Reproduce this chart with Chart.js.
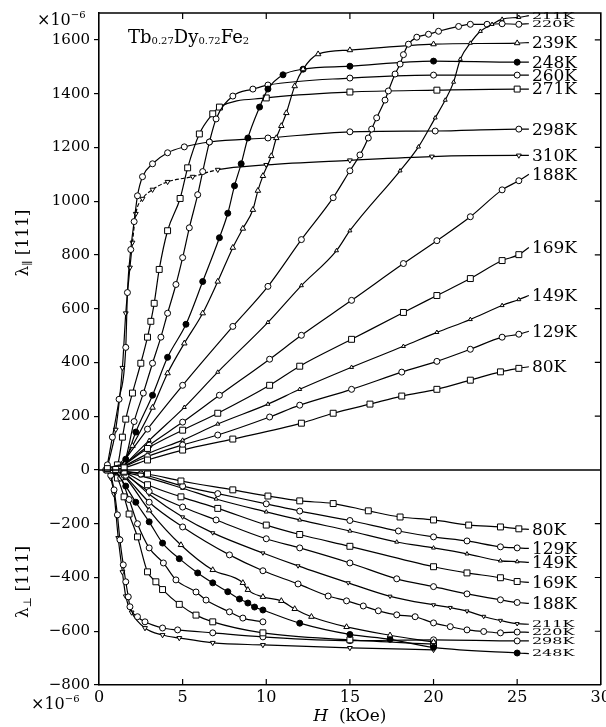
<!DOCTYPE html>
<html><head><meta charset="utf-8">
<script src="https://cdn.jsdelivr.net/npm/chart.js@4/dist/chart.umd.min.js"></script>
<style>html,body{margin:0;padding:0;background:#fff}</style>
</head><body>
<canvas id="c" width="606" height="727"></canvas>
<script>
// ---------- DATA (H in kOe, lambda in 1e-6) ----------
const xTickValues = [0, 5, 10, 15, 20, 25, 30];
const yTickValues = [-800, -600, -400, -200, 0, 200, 400, 600, 800, 1000, 1200, 1400, 1600];

// lambda-parallel [111]
const par80K  = [[1.0,2],[1.5,8],[2.9,37],[5.0,74],[8.0,115],[12.1,174],[14.0,211],[16.2,245],[18.1,275],[20.2,300],[22.2,334],[24.0,365],[25.1,378],[25.7,384]];
const par129K = [[1.2,3],[2.9,50],[5.0,93],[7.1,130],[10.2,197],[12.0,241],[15.1,300],[18.1,364],[20.2,404],[22.2,449],[24.1,494],[25.1,505],[25.7,516]];
const par149K = [[1.2,3],[2.9,60],[5.0,111],[7.1,171],[10.1,245],[12.0,300],[15.1,382],[18.2,460],[20.2,512],[22.2,560],[24.1,612],[25.1,634],[25.7,649]];
const par169K = [[1.2,4],[2.9,80],[5.0,148],[7.1,211],[10.2,315],[12.0,386],[15.1,486],[18.2,586],[20.2,649],[22.2,712],[24.1,779],[25.1,801],[25.7,828]];
const par188K = [[1.2,5],[3.0,92],[5.0,178],[7.2,278],[10.2,412],[12.1,501],[15.1,631],[18.2,768],[20.2,853],[22.2,942],[24.1,1042],[25.1,1076],[25.7,1100]];
const par211K = [[1.3,5],[3.0,110],[5.1,233],[7.1,364],[10.1,549],[12.1,686],[14.2,816],[15.0,890],[18.0,1113],[19.1,1202],[20.1,1310],[20.7,1376],[21.2,1443],[21.6,1528],[22.2,1588],[22.8,1632],[23.5,1658],[24.1,1677],[25.1,1684],[25.7,1690]];
const par220K = [[1.2,8],[2.9,152],[5.0,315],[8.0,534],[10.1,683],[12.1,857],[14.0,1013],[15.0,1113],[15.6,1172],[16.1,1235],[16.3,1268],[16.6,1310],[17.1,1376],[17.3,1410],[17.7,1473],[18.0,1510],[18.2,1545],[18.5,1584],[19.0,1610],[19.7,1621],[20.3,1632],[21.5,1650],[22.2,1658],[23.2,1658],[24.1,1660],[25.1,1658],[25.7,1660]];
const par239K = [[1.3,10],[2.0,90],[3.2,232],[4.1,360],[5.1,471],[6.2,583],[7.1,701],[8.0,827],[8.6,898],[9.2,968],[9.5,1039],[9.8,1094],[10.3,1168],[10.6,1235],[10.9,1280],[11.2,1328],[11.7,1428],[12.2,1491],[13.1,1547],[15.0,1562],[20.0,1584],[25.0,1588],[25.7,1590]];
const par248K = [[1.0,3],[1.6,40],[2.2,141],[3.2,278],[4.1,419],[5.2,542],[6.2,701],[7.2,864],[7.7,955],[8.1,1057],[8.5,1139],[8.9,1235],[9.6,1350],[10.1,1417],[11.0,1470],[12.2,1491],[15.0,1502],[20.0,1521],[25.0,1517],[25.7,1517]];
const par260K = [[1.0,5],[1.5,25],[2.1,180],[2.65,286],[3.2,397],[3.7,494],[4.1,583],[4.6,690],[5.0,790],[5.4,901],[5.9,1024],[6.2,1110],[6.6,1220],[7.0,1306],[8.0,1391],[9.2,1417],[10.1,1432],[15.0,1458],[20.0,1469],[25.0,1469],[25.7,1469]];
const par271K = [[0.5,5],[1.1,19],[1.4,122],[1.6,189],[2.0,286],[2.5,397],[2.9,494],[3.1,553],[3.3,620],[3.6,746],[4.1,890],[4.85,1010],[5.3,1124],[6.0,1250],[6.8,1325],[7.2,1350],[10.0,1384],[15.0,1406],[20.2,1413],[25.0,1417],[25.7,1417]];
const par298K = [[0.5,19],[0.8,122],[1.2,263],[1.6,456],[1.7,660],[1.9,820],[2.1,924],[2.3,1020],[2.6,1091],[3.2,1139],[4.1,1180],[5.1,1202],[6.6,1220],[10.1,1235],[15.0,1258],[20.1,1261],[25.1,1268],[25.7,1268]];
const par310K = [[0.5,10],[1.0,150],[1.4,380],[1.6,583],[1.85,753],[2.0,846],[2.2,953],[2.6,1009],[3.2,1043],[4.1,1072],[5.6,1091],[7.1,1117],[10.0,1135],[15.0,1152],[19.9,1166],[25.1,1170],[25.7,1170]];

// lambda-perpendicular [111]
const perp80K  = [[0.5,0],[1.5,-5],[2.9,-15],[4.9,-41],[8.0,-74],[10.1,-97],[12.0,-115],[14.0,-125],[16.1,-152],[18.0,-175],[20.0,-186],[22.1,-205],[24.0,-212],[25.1,-219],[25.7,-221]];
const perp129K = [[0.7,0],[2.5,-15],[5.0,-60],[7.1,-88],[10.0,-126],[12.0,-153],[15.0,-188],[17.9,-227],[20.0,-249],[22.0,-264],[24.0,-286],[25.0,-290],[25.7,-292]];
const perp149K = [[0.8,0],[2.5,-22],[5.0,-68],[7.0,-108],[10.0,-156],[12.0,-186],[15.0,-227],[17.8,-268],[20.0,-290],[22.0,-312],[24.0,-338],[25.0,-341],[25.7,-344]];
const perp169K = [[1.0,0],[1.5,-8],[2.9,-55],[4.9,-100],[7.1,-143],[10.0,-205],[12.0,-240],[15.0,-284],[20.0,-360],[22.0,-383],[24.0,-401],[25.0,-415],[25.7,-418]];
const perp188K = [[1.0,0],[1.6,-20],[3.0,-80],[5.0,-138],[7.0,-186],[10.0,-256],[12.0,-290],[15.0,-346],[17.8,-405],[20.0,-434],[22.0,-461],[24.0,-483],[25.0,-493],[25.7,-496]];
const perp211K = [[1.0,0],[1.5,-12],[3.0,-90],[5.0,-175],[6.8,-234],[9.8,-309],[11.9,-357],[14.9,-420],[17.4,-470],[20.0,-502],[21.0,-512],[22.0,-525],[23.0,-545],[24.0,-560],[25.0,-572],[25.7,-574]];
const perp220K = [[1.0,0],[1.5,-20],[3.0,-120],[5.0,-212],[7.8,-316],[9.8,-375],[11.9,-424],[13.7,-469],[14.8,-487],[15.8,-506],[16.7,-524],[17.8,-539],[18.9,-546],[20.0,-569],[21.0,-583],[22.0,-595],[23.0,-601],[24.0,-606],[25.0,-603],[25.7,-604]];
const perp239K = [[1.0,0],[1.6,-30],[3.0,-150],[4.9,-279],[6.8,-372],[8.6,-420],[8.9,-446],[9.8,-472],[10.9,-487],[11.7,-517],[12.7,-546],[14.8,-584],[17.4,-615],[20.0,-640]];
const perp248K = [[1.0,-5],[1.6,-60],[2.2,-120],[3.0,-193],[3.8,-272],[4.8,-330],[5.9,-383],[6.8,-420],[7.7,-453],[8.4,-480],[8.9,-495],[9.3,-510],[9.8,-521],[12.0,-570],[15.0,-612],[17.4,-630],[20.0,-660],[25.0,-681],[25.7,-683]];
const perp260K = [[0.8,0],[1.3,-30],[1.8,-110],[2.3,-200],[3.0,-290],[3.85,-346],[4.6,-409],[5.8,-454],[6.4,-484],[7.8,-528],[8.6,-551],[9.8,-565]];
const perp271K = [[0.7,0],[1.1,-30],[1.5,-100],[1.8,-164],[2.3,-249],[2.9,-379],[3.4,-416],[3.8,-445],[4.8,-500],[5.8,-540],[6.8,-565],[9.8,-606],[15.0,-632],[20.0,-648]];
const perp298K = [[0.4,0],[0.7,-20],[0.9,-74],[1.1,-167],[1.25,-260],[1.45,-353],[1.6,-416],[1.75,-472],[1.85,-509],[2.3,-546],[2.75,-565],[3.8,-588],[4.7,-595],[6.8,-606],[9.8,-621],[15.0,-635],[20.0,-632],[25.0,-636],[25.7,-636]];
const perp310K = [[0.4,0],[0.7,-30],[0.9,-90],[1.15,-253],[1.4,-380],[1.6,-470],[1.95,-530],[2.75,-588],[3.8,-614],[4.8,-625],[6.8,-643],[9.8,-651],[15.0,-662],[20.0,-669]];

// ---------- series table: [label, data, marker, labelStyle, dashed] ----------
const seriesTable = [
  ['80K',  par80K,  'sq',  'big'], ['129K', par129K, 'ci', 'big'], ['149K', par149K, 'tt', 'big'],
  ['169K', par169K, 'sq',  'big'], ['188K', par188K, 'ci', 'big'], ['211K', par211K, 'tt', 'small'],
  ['220K', par220K, 'ci',  'small'], ['239K', par239K, 'tr', 'big'], ['248K', par248K, 'fc', 'big'],
  ['260K', par260K, 'ci',  'big'], ['271K', par271K, 'sq', 'big'], ['298K', par298K, 'ci', 'big'],
  ['310K', par310K, 'dt',  'big', true],
  ['80K',  perp80K,  'sq', 'big'], ['129K', perp129K, 'ci', 'big'], ['149K', perp149K, 'tt', 'big'],
  ['169K', perp169K, 'sq', 'big'], ['188K', perp188K, 'ci', 'big'], ['211K', perp211K, 'dtt', 'small'],
  ['220K', perp220K, 'ci', 'small'], ['239K', perp239K, 'tr', null], ['248K', perp248K, 'fc', 'small'],
  ['260K', perp260K, 'ci', null], ['271K', perp271K, 'sq', null], ['298K', perp298K, 'ci', 'small'],
  ['310K', perp310K, 'dt', null]
];

const markerStyles = {
  sq:  {pointStyle: 'rect', radius: 4.2, rotation: 0, fill: '#fff'},
  ci:  {pointStyle: 'circle', radius: 3.0, rotation: 0, fill: '#fff'},
  tr:  {pointStyle: 'triangle', radius: 3.2, rotation: 0, fill: '#fff'},
  tt:  {pointStyle: 'triangle', radius: 2.3, rotation: 0, fill: '#fff'},
  dt:  {pointStyle: 'triangle', radius: 2.8, rotation: 180, fill: '#fff'},
  dtt: {pointStyle: 'triangle', radius: 2.3, rotation: 180, fill: '#fff'},
  fc:  {pointStyle: 'circle', radius: 3.0, rotation: 0, fill: '#000'}
};

const SERIF = '"DejaVu Serif", "Liberation Serif", serif';

const datasets = seriesTable.map(([label, pts, mk, ls, dashed]) => {
  const m = markerStyles[mk];
  const n = pts.length;
  return {
    label,
    data: pts.map(p => ({x: p[0], y: p[1]})),
    showLine: true,
    borderColor: '#000',
    borderWidth: 1.2,
    cubicInterpolationMode: 'monotone',
    segment: dashed ? {borderDash: c => (c.p0.parsed.x >= 2.0 && c.p0.parsed.x < 7.1) ? [4, 2] : undefined} : undefined,
    pointStyle: m.pointStyle,
    pointRotation: m.rotation,
    pointBackgroundColor: m.fill,
    pointBorderColor: '#000',
    pointBorderWidth: 1,
    pointRadius: ctx => (ls && ctx.dataIndex === n - 1) ? 0 : m.radius,
    pointHoverRadius: 0,
    _labelStyle: ls
  };
});

function drawRuns(ctx, runs, x, y) {
  let cx = x;
  for (const [t, f, dy] of runs) {
    ctx.font = f;
    ctx.fillText(t, cx, y + dy);
    cx += ctx.measureText(t).width;
  }
  return cx - x;
}
function runsWidth(ctx, runs) {
  let w = 0;
  for (const [t, f] of runs) { ctx.font = f; w += ctx.measureText(t).width; }
  return w;
}

const decor = {
  id: 'decor',
  afterDraw(chart) {
    const {ctx, chartArea: a, scales: {x, y}} = chart;
    ctx.save();
    ctx.strokeStyle = '#000';
    ctx.fillStyle = '#000';
    ctx.lineWidth = 1.6;
    ctx.beginPath();
    ctx.moveTo(a.left, a.top); ctx.lineTo(a.right, a.top); ctx.lineTo(a.right, a.bottom);
    ctx.stroke();
    const y0 = y.getPixelForValue(0);
    ctx.lineWidth = 1.4;
    ctx.beginPath(); ctx.moveTo(a.left, y0); ctx.lineTo(a.right, y0); ctx.stroke();
    ctx.lineWidth = 1.2;
    ctx.beginPath();
    for (const v of xTickValues) {
      if (v === 0 || v === 30) continue;
      const px = x.getPixelForValue(v);
      ctx.moveTo(px, a.bottom); ctx.lineTo(px, a.bottom - 6);
      ctx.moveTo(px, a.top); ctx.lineTo(px, a.top + 6);
    }
    for (const v of yTickValues) {
      if (v === -800 || v === 0) continue;
      const py = y.getPixelForValue(v);
      ctx.moveTo(a.right, py); ctx.lineTo(a.right - 6, py);
    }
    ctx.stroke();

    ctx.font = '16px ' + SERIF;
    ctx.textAlign = 'center';
    ctx.textBaseline = 'middle';
    for (const v of xTickValues) {
      ctx.fillText(String(v), x.getPixelForValue(v), a.bottom + 13);
    }

    ctx.textAlign = 'left';
    ctx.textBaseline = 'alphabetic';
    const xt = [['H', 'italic 17px ' + SERIF, 0], ['  (kOe)', '17px ' + SERIF, 0]];
    const xtw = runsWidth(ctx, xt);
    drawRuns(ctx, xt, x.getPixelForValue(15) - xtw / 2, 721);

    const mult = [['\u00d710', '16px ' + SERIF, 0], ['\u22126', '10px ' + SERIF, -7]];
    drawRuns(ctx, mult, 37, 25);
    drawRuns(ctx, mult, 31, 709);

    const title = [['Tb', '18px ' + SERIF, 0], ['0.27', '10px ' + SERIF, 1], ['Dy', '18px ' + SERIF, 0],
                   ['0.72', '10px ' + SERIF, 1], ['Fe', '18px ' + SERIF, 0], ['2', '10px ' + SERIF, 1]];
    drawRuns(ctx, title, 128, 43);

    function rotTitle(runs, cx, cy) {
      ctx.save();
      ctx.translate(cx, cy);
      ctx.rotate(-Math.PI / 2);
      ctx.textBaseline = 'middle';
      const w = runsWidth(ctx, runs);
      drawRuns(ctx, runs, -w / 2, 0);
      ctx.restore();
    }
    rotTitle([['\u03bb', '17px ' + SERIF, 0], ['\u2225', '11px ' + SERIF, 4], [' [111]', '17px ' + SERIF, 0]], 24, 243);
    rotTitle([['\u03bb', '17px ' + SERIF, 0], ['\u22a5', '11px ' + SERIF, 4], [' [111]', '17px ' + SERIF, 0]], 24, 582);

    ctx.textAlign = 'left';
    ctx.textBaseline = 'middle';
    chart.data.datasets.forEach((ds, i) => {
      if (!ds._labelStyle) return;
      const meta = chart.getDatasetMeta(i);
      const el = meta.data[meta.data.length - 1];
      const lx = el.x + 3, ly = el.y;
      if (ds._labelStyle === 'big') {
        ctx.font = '17px ' + SERIF;
        ctx.fillText(ds.label, lx, ly + 1);
      } else {
        ctx.save();
        ctx.translate(lx, ly);
        ctx.scale(1, 0.55);
        ctx.font = '16px ' + SERIF;
        ctx.fillText(ds.label, 0, 1);
        ctx.restore();
      }
    });
    ctx.restore();
  }
};

new Chart(document.getElementById('c'), {
  type: 'scatter',
  data: {datasets},
  options: {
    responsive: false,
    devicePixelRatio: 1,
    animation: false,
    layout: {padding: {top: 13, right: 4, left: 0, bottom: 0}},
    plugins: {legend: {display: false}, tooltip: {enabled: false}, title: {display: false}},
    scales: {
      x: {
        type: 'linear', min: 0, max: 30, position: 'bottom',
        ticks: {display: false},
        grid: {display: false, drawTicks: false},
        border: {display: true, color: '#000', width: 1.6},
        afterFit: s => { s.height = 42; }
      },
      y: {
        type: 'linear', min: -800, max: 1700, position: 'left',
        afterBuildTicks: s => { s.ticks = yTickValues.map(v => ({value: v})); },
        ticks: {
          color: '#000', padding: 4,
          font: {family: SERIF, size: 15},
          callback: v => v < 0 ? '\u2212' + Math.abs(v) : String(v)
        },
        grid: {drawOnChartArea: false, drawTicks: true, tickLength: 5, color: '#000', lineWidth: 1.2},
        border: {display: true, color: '#000', width: 1.6},
        afterFit: s => { s.width = 99; }
      }
    }
  },
  plugins: [decor]
});
</script>
</body></html>
